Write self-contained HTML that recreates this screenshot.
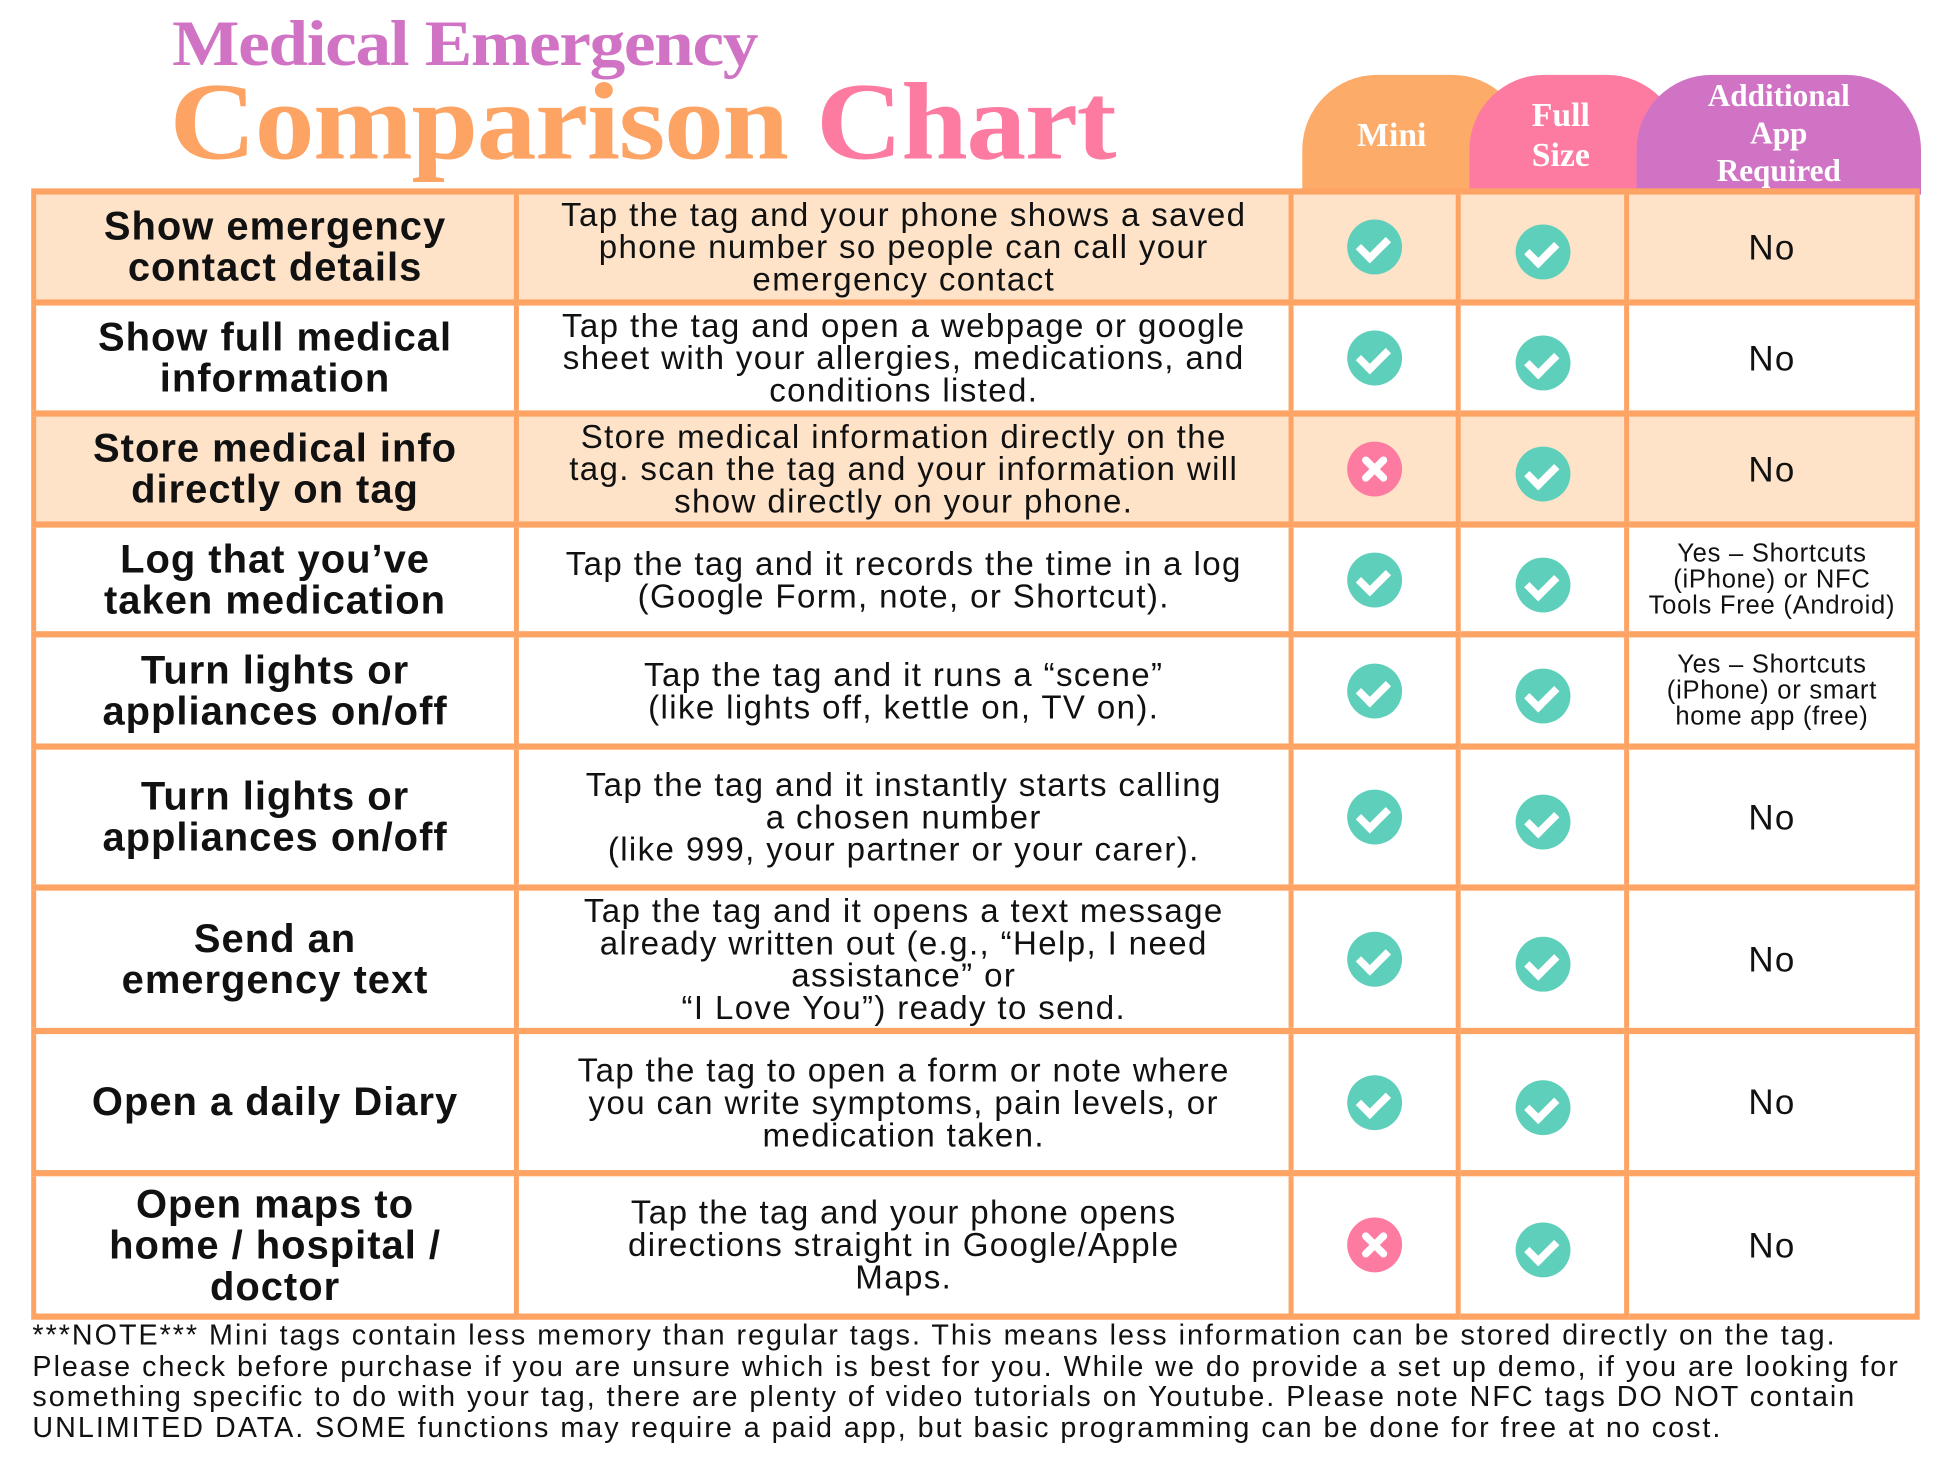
<!DOCTYPE html>
<html><head><meta charset="utf-8"><style>
html,body{margin:0;padding:0;background:#fff;width:1946px;height:1460px;overflow:hidden}
#w{position:absolute;left:0;top:0;width:1560px;height:1170px;transform:scale(1.2474);transform-origin:0 0;font-family:"Liberation Sans",sans-serif;color:#111}
.t1{position:absolute;left:138px;top:6px;font-family:"Liberation Serif",serif;font-weight:bold;font-size:52px;color:#d173c4;letter-spacing:-1px;white-space:nowrap;transform:scaleX(1.1);transform-origin:0 0}
.t2{position:absolute;left:136px;top:48px;font-family:"Liberation Serif",serif;font-weight:bold;font-size:88px;color:#fda464;letter-spacing:-1px;white-space:nowrap;transform:scaleX(1.09);transform-origin:0 0}
.t2 span{color:#fd7ba1}
.tab{position:absolute;top:60px;height:96px;border-radius:60px 60px 0 0;color:#fff;font-family:"Liberation Serif",serif;font-weight:bold;display:flex;align-items:center;justify-content:center;text-align:center;line-height:1.2}
table{position:absolute;left:25px;top:151px;border-collapse:collapse;table-layout:fixed}
td{border-left:4px solid #fda464;border-right:4px solid #fda464;border-top:5px solid #fda464;border-bottom:5px solid #fda464;text-align:center;vertical-align:middle;padding:0;line-height:33px}
tr.p td{background:#fee3c9}
td.a{font-weight:bold;font-size:32px;letter-spacing:0.8px}
td.b{font-size:26.5px;line-height:26px;letter-spacing:1.1px}
td.n{font-size:28px;letter-spacing:1px}
td.s{font-size:20.5px;line-height:21px;letter-spacing:0.6px}
.ic{display:inline-block;width:44px;height:44px;border-radius:50%;position:relative;vertical-align:middle}
.ok{background:#5ecfba}
.ok:after{content:"";position:absolute;left:13px;top:9px;width:10px;height:18px;border:solid #fff;border-width:0 6px 6px 0;transform:rotate(45deg)}
.no{background:#fd7ba1}
.no:before,.no:after{content:"";position:absolute;left:19px;top:9px;width:6px;height:26px;background:#fff;border-radius:3px;transform:rotate(45deg)}
.no:after{transform:rotate(-45deg)}
.f{margin-top:8px}
.note{position:absolute;left:26px;top:1058px;width:1540px;font-size:23px;line-height:24.5px;letter-spacing:1.6px;color:#111;white-space:nowrap}
</style></head><body><div id="w">
<div class="t1">Medical Emergency</div>
<div class="t2">Comparison <span>Chart</span></div>
<div class="tab" style="left:1044px;width:180px;background:#fdab68;font-size:27px;justify-content:flex-start;padding-left:44px;box-sizing:border-box">Mini</div>
<div class="tab" style="left:1178px;width:170px;background:#fd7ba1;font-size:27px;justify-content:flex-start;padding-left:50px;box-sizing:border-box">Full<br>Size</div>
<div class="tab" style="left:1312px;width:228px;background:#d173c4;font-size:25px">Additional<br>App<br>Required</div>
<table>
<colgroup><col style="width:387px"><col style="width:621px"><col style="width:134px"><col style="width:135px"><col style="width:233px"></colgroup>
<tr class="p" style="height:89px"><td class="a">Show emergency<br>contact details</td><td class="b">Tap the tag and your phone shows a saved<br>phone number so people can call your<br>emergency contact</td><td><span class="ic ok"></span></td><td><span class="ic ok f"></span></td><td class="n">No</td></tr>
<tr style="height:89px"><td class="a">Show full medical<br>information</td><td class="b">Tap the tag and open a webpage or google<br>sheet with your allergies, medications, and<br>conditions listed.</td><td><span class="ic ok"></span></td><td><span class="ic ok f"></span></td><td class="n">No</td></tr>
<tr class="p" style="height:89px"><td class="a">Store medical info<br>directly on tag</td><td class="b">Store medical information directly on the<br>tag. scan the tag and your information will<br>show directly on your phone.</td><td><span class="ic no"></span></td><td><span class="ic ok f"></span></td><td class="n">No</td></tr>
<tr style="height:88px"><td class="a">Log that you’ve<br>taken medication</td><td class="b">Tap the tag and it records the time in a log<br>(Google Form, note, or Shortcut).</td><td><span class="ic ok"></span></td><td><span class="ic ok f"></span></td><td class="s">Yes – Shortcuts<br>(iPhone) or NFC<br>Tools Free (Android)</td></tr>
<tr style="height:90px"><td class="a">Turn lights or<br>appliances on/off</td><td class="b">Tap the tag and it runs a “scene”<br>(like lights off, kettle on, TV on).</td><td><span class="ic ok"></span></td><td><span class="ic ok f"></span></td><td class="s">Yes – Shortcuts<br>(iPhone) or smart<br>home app (free)</td></tr>
<tr style="height:113px"><td class="a">Turn lights or<br>appliances on/off</td><td class="b">Tap the tag and it instantly starts calling<br>a chosen number<br>(like 999, your partner or your carer).</td><td><span class="ic ok"></span></td><td><span class="ic ok f"></span></td><td class="n">No</td></tr>
<tr style="height:115px"><td class="a">Send an<br>emergency text</td><td class="b">Tap the tag and it opens a text message<br>already written out (e.g., “Help, I need<br>assistance” or<br>“I Love You”) ready to send.</td><td><span class="ic ok"></span></td><td><span class="ic ok f"></span></td><td class="n">No</td></tr>
<tr style="height:114px"><td class="a">Open a daily Diary</td><td class="b">Tap the tag to open a form or note where<br>you can write symptoms, pain levels, or<br>medication taken.</td><td><span class="ic ok"></span></td><td><span class="ic ok f"></span></td><td class="n">No</td></tr>
<tr style="height:115px"><td class="a">Open maps to<br>home / hospital /<br>doctor</td><td class="b">Tap the tag and your phone opens<br>directions straight in Google/Apple<br>Maps.</td><td><span class="ic no"></span></td><td><span class="ic ok f"></span></td><td class="n">No</td></tr>
</table>
<div class="note">***NOTE*** Mini tags contain less memory than regular tags. This means less information can be stored directly on the tag.<br>Please check before purchase if you are unsure which is best for you. While we do provide a set up demo, if you are looking for<br>something specific to do with your tag, there are plenty of video tutorials on Youtube. Please note NFC tags DO NOT contain<br>UNLIMITED DATA. SOME functions may require a paid app, but basic programming can be done for free at no cost.</div>
</div></body></html>
